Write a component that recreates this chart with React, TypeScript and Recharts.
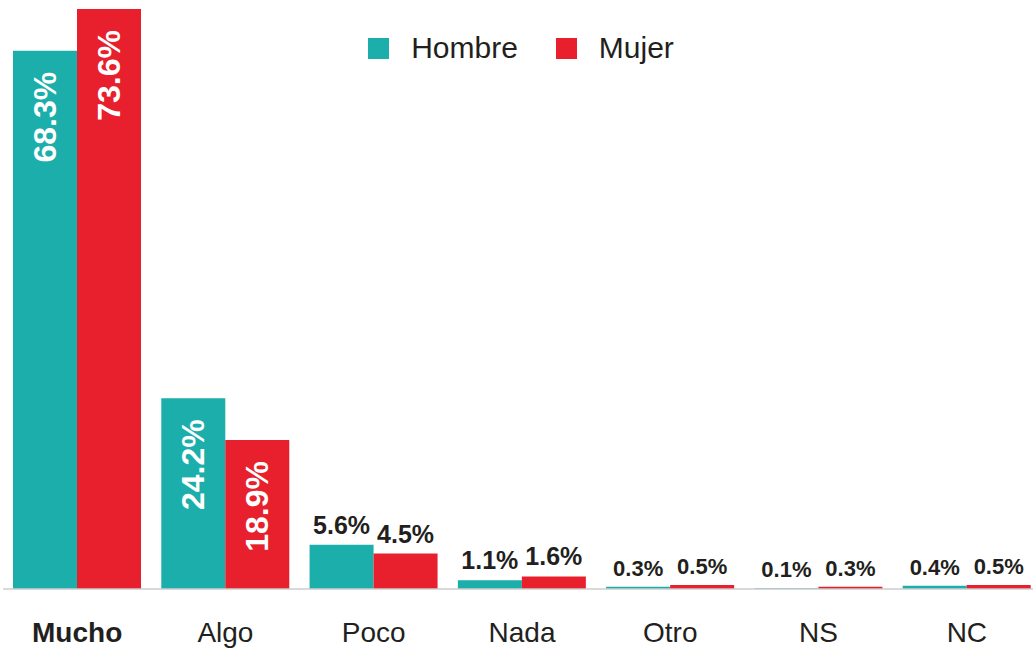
import React from "react";
import { BarChart, Bar, XAxis, YAxis, LabelList } from "recharts";

const categories = ["Mucho", "Algo", "Poco", "Nada", "Otro", "NS", "NC"];
const hombre = [68.3, 24.2, 5.6, 1.1, 0.3, 0.1, 0.4];
const mujer = [73.6, 18.9, 4.5, 1.6, 0.5, 0.3, 0.5];
const seriesNames = ["Hombre", "Mujer"];

const TEAL = "#1BAEAA";
const RED = "#E8202D";
const DARK = "#231F20";
const FONT = "'Liberation Sans', Arial, Helvetica, sans-serif";

const data = categories.map((c, i) => ({ name: c, hombre: hombre[i], mujer: mujer[i] }));

const ValueLabel = (props: any) => {
  const { x, y, width, value } = props;
  const cx = x + width / 2;
  const txt = `${Number(value).toFixed(1)}%`;
  if (value > 10) {
    return (
      <text
        transform={`translate(${cx}, ${y + 21}) rotate(-90)`}
        textAnchor="end"
        dominantBaseline="central"
        fill="#ffffff"
        fontFamily={FONT}
        fontWeight="bold"
        fontSize={32}
      >
        {txt}
      </text>
    );
  }
  return (
    <text
      x={cx}
      y={y - 11}
      textAnchor="middle"
      fill={DARK}
      fontFamily={FONT}
      fontWeight="bold"
      fontSize={value >= 1 ? 25 : 22}
    >
      {txt}
    </text>
  );
};

const Tick = (props: any) => {
  const { x, y, payload } = props;
  return (
    <text
      x={x}
      y={y}
      dy={53}
      textAnchor="middle"
      fill={DARK}
      fontFamily={FONT}
      fontSize={28}
      fontWeight={payload.index === 0 ? "bold" : "normal"}
    >
      {payload.value}
    </text>
  );
};

const LegendBox = () => {
  const colors = [TEAL, RED];
  return (
    <div
      style={{
        position: "absolute",
        top: 31,
        left: 0,
        width: 1042,
        display: "flex",
        justifyContent: "center",
        fontFamily: FONT,
      }}
    >
      {seriesNames.map((n, i) => (
        <div
          key={n}
          style={{ display: "flex", alignItems: "center", marginRight: i === 0 ? 38 : 0 }}
        >
          <div style={{ width: 21, height: 21, background: colors[i], marginRight: 22 }} />
          <span style={{ fontSize: 30, color: DARK, lineHeight: "34px" }}>{n}</span>
        </div>
      ))}
    </div>
  );
};

export default function App() {
  return (
    <div
      style={{
        position: "absolute",
        left: 0,
        top: 0,
        width: 1033,
        height: 649,
        overflow: "hidden",
        background: "#fff",
      }}
    >
      <BarChart
        width={1042}
        height={649}
        data={data}
        margin={{ top: 9, right: 1, bottom: 0, left: 3 }}
        barSize={64}
        barGap={0}
      >
        <XAxis
          dataKey="name"
          height={60}
          axisLine={{ stroke: "#CCCCCC", strokeWidth: 1.5 }}
          tickLine={false}
          tickSize={0}
          tickMargin={0}
          tick={<Tick />}
          interval={0}
        />
        <YAxis hide domain={[0, 73.6]} />
        <Bar dataKey="hombre" name={seriesNames[0]} fill={TEAL} isAnimationActive={false}>
          <LabelList dataKey="hombre" content={<ValueLabel />} />
        </Bar>
        <Bar dataKey="mujer" name={seriesNames[1]} fill={RED} isAnimationActive={false}>
          <LabelList dataKey="mujer" content={<ValueLabel />} />
        </Bar>
      </BarChart>
      <LegendBox />
    </div>
  );
}
